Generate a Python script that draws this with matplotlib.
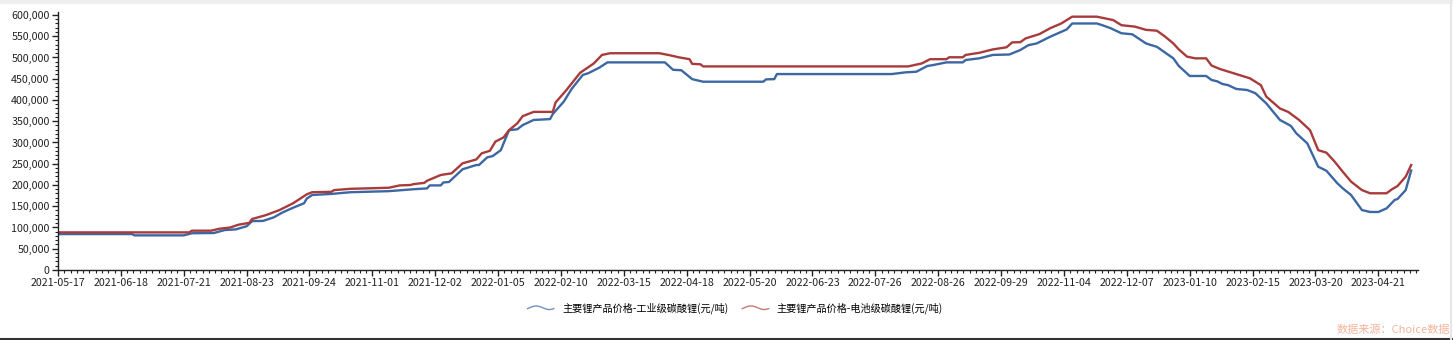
import numpy as np
import matplotlib
matplotlib.use("Agg")
import matplotlib.pyplot as plt
from matplotlib.ticker import FuncFormatter, MultipleLocator, AutoMinorLocator
from matplotlib.legend_handler import HandlerBase
from matplotlib.lines import Line2D

plt.rcParams['font.family'] = ['Noto Sans CJK SC', 'DejaVu Sans']

# --- data (trading-day index, yuan/ton) ---
tick_labels = ['2021-05-17', '2021-06-18', '2021-07-21', '2021-08-23', '2021-09-24',
               '2021-11-01', '2021-12-02', '2022-01-05', '2022-02-10', '2022-03-15',
               '2022-04-18', '2022-05-20', '2022-06-23', '2022-07-26', '2022-08-26',
               '2022-09-29', '2022-11-04', '2022-12-07', '2023-01-10', '2023-02-15',
               '2023-03-20', '2023-04-21']
tick_step = 23
n_days = 496

ind_idx = [0, 27, 28, 46, 49, 57, 61, 65, 69, 71, 75, 79, 82, 86, 90, 91, 93, 100,
           107, 121, 130, 135, 136, 140, 141, 143, 148, 153, 154, 157, 159, 162, 163,
           165, 168, 170, 174, 180, 181, 185, 188, 192, 194, 198, 201, 222, 225, 228,
           232, 236, 258, 259, 262, 263, 305, 310, 314, 318, 320, 325, 331, 332, 337,
           342, 348, 352, 355, 358, 363, 369, 371, 380, 382, 385, 389, 393, 398, 402,
           408, 410, 414, 420, 422, 424, 426, 428, 431, 435, 438, 442, 447, 451, 453,
           457, 461, 464, 468, 470, 473, 477, 480, 483, 486, 489, 490, 493, 495]
ind_val = [84.5, 84.5, 81.5, 81.5, 86.5, 87, 94, 95.5, 103, 115, 115.5, 124, 135,
           146.5, 157, 168, 176.5, 179, 183, 185.5, 190, 192, 199, 199, 206, 207, 237,
           247, 247, 265, 268, 282, 298, 329, 331, 341, 353, 355, 367, 396, 427, 459,
           463, 476, 488.5, 488.5, 471, 470, 449, 443, 443, 448.5, 449, 461, 461, 465,
           466.5, 480, 482, 488.5, 488.5, 494, 498, 506, 507, 517.5, 529, 533, 549, 566,
           580, 580, 576, 569, 557, 554.5, 533, 525, 498, 480, 456.5, 456.5, 447, 444,
           437.5, 435, 426, 423.5, 416, 392, 353, 339, 321.5, 298, 243, 233.5, 204,
           192, 176.5, 141, 136.5, 136.5, 145, 165, 167, 188, 234]

bat_idx = [0, 48, 49, 56, 59, 63, 66, 70, 71, 76, 81, 86, 91, 93, 100, 101, 107, 121,
           125, 129, 130, 134, 135, 140, 144, 148, 153, 155, 158, 160, 163, 165, 168,
           170, 174, 181, 182, 186, 191, 196, 199, 202, 220, 224, 227, 231, 232, 235,
           236, 311, 316, 319, 325, 326, 331, 332, 337, 342, 347, 349, 352, 354, 359,
           363, 367, 371, 380, 386, 389, 394, 398, 402, 405, 408, 410, 413, 416, 420,
           422, 425, 431, 436, 440, 442, 447, 450, 454, 458, 461, 464, 467, 470, 473,
           477, 480, 486, 488, 490, 493, 495]
bat_val = [88.5, 88.5, 92.5, 92.5, 97, 100, 106.5, 111, 120, 129, 141, 157, 178, 183,
           184, 188, 191, 193.5, 199, 200, 202, 205, 210, 223.5, 227.5, 251, 260, 274.5,
           280.5, 302, 312, 329, 345, 362, 372, 372, 394, 423.5, 464, 486, 506, 510,
           510, 505, 500.5, 496, 485, 484, 479, 479, 486, 496, 496, 500.5, 500.5, 506,
           511, 519, 524, 535.5, 536, 545, 555, 569, 580, 596, 596, 588, 576, 572.5,
           565, 563, 549, 533, 519, 502, 498, 498, 481, 473, 461, 451, 435, 408, 380,
           372, 353, 329, 282, 276, 255, 231, 208, 188, 180.5, 180.5, 190, 197.5, 219.5,
           247]

series_names = ['主要锂产品价格-工业级碳酸锂(元/吨)', '主要锂产品价格-电池级碳酸锂(元/吨)']
line_colors = ['#3c67a3', '#a83b3b']
legend_colors = ['#7592c4', '#c77878']


class WaveHandler(HandlerBase):
    """Little wavy line like the original legend icon."""
    def create_artists(self, legend, orig_handle, xdescent, ydescent,
                       width, height, fontsize, trans):
        t = np.linspace(0, 1, 40)
        xs = -xdescent + t * width
        ys = -ydescent + height / 2 + height * 0.25 * np.sin(2 * np.pi * (t - 0.08))
        ln = Line2D(xs, ys, color=orig_handle.get_color(), lw=1.0, transform=trans)
        return [ln]


fig = plt.figure(figsize=(14.53, 3.40), dpi=100)
ax = fig.add_axes([58 / 1453, 1 - 270 / 340, (1418 - 58) / 1453, 258 / 340])

ax.plot(ind_idx, np.array(ind_val) * 1000, color=line_colors[0], lw=1.7)
ax.plot(bat_idx, np.array(bat_val) * 1000, color=line_colors[1], lw=1.7)

ax.set_xlim(0, n_days + 1.5)
ax.set_ylim(0, 607000)

ax.set_xticks([i * tick_step for i in range(len(tick_labels))])
ax.set_xticklabels(tick_labels)
ax.xaxis.set_minor_locator(MultipleLocator(tick_step / 10))
ax.yaxis.set_major_locator(MultipleLocator(50000))
ax.yaxis.set_minor_locator(AutoMinorLocator(5))
ax.yaxis.set_major_formatter(FuncFormatter(lambda v, p: f'{int(v):,}'))

for s in ['top', 'right']:
    ax.spines[s].set_visible(False)
for s in ['left', 'bottom']:
    ax.spines[s].set_color('#222222')
    ax.spines[s].set_linewidth(1.0)

ax.tick_params(axis='both', which='major', length=4, width=1, color='#222222',
               labelsize=7.7, labelcolor='#222222', pad=2)
ax.tick_params(axis='both', which='minor', length=2, width=0.8, color='#222222')

handles = [Line2D([], [], color=c) for c in legend_colors]
fig.legend(handles, series_names, loc='center', bbox_to_anchor=(0.506, 0.094),
           ncol=2, frameon=False, fontsize=7.3, handlelength=2.6,
           handletextpad=0.8, columnspacing=1.4,
           handler_map={Line2D: WaveHandler()})

fig.text(0.998, 0.03, '数据来源：Choice数据', ha='right', va='center',
         fontsize=8, color='#f4b49a')

# thin frame strips like the screenshot
fig.add_artist(plt.Rectangle((0, 1 - 4 / 340), 1, 4 / 340, transform=fig.transFigure,
                             color='#efefef', lw=0))
fig.add_artist(Line2D([0, 1], [1 / 340, 1 / 340], transform=fig.transFigure,
                      color='#333333', lw=1.5))
fig.add_artist(Line2D([1 - 2 / 1453, 1 - 2 / 1453], [0, 1], transform=fig.transFigure,
                      color='#e6e6e6', lw=1.5))

fig.savefig('out.png', dpi=100)
